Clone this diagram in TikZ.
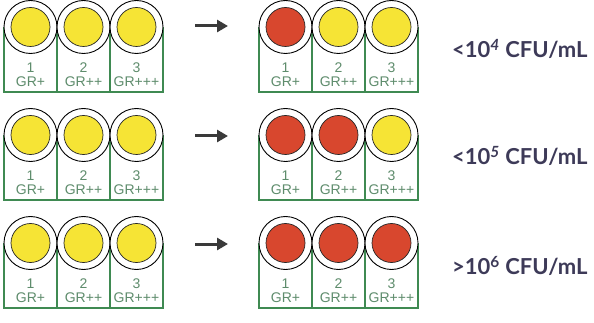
\documentclass[tikz,border=0pt]{standalone}
\usepackage{fontspec}
\setmainfont{Liberation Sans}
\newfontfamily\labelfont{Lato}
\usetikzlibrary{arrows.meta}
\definecolor{boxgreen}{HTML}{3F8A52}
\definecolor{txtgreen}{HTML}{5E8C6C}
\definecolor{ylw}{HTML}{F6E435}
\definecolor{rd}{HTML}{D8472E}
\definecolor{arrowgray}{HTML}{3A3A3A}
\definecolor{lbl}{HTML}{3D3A58}
\tikzset{
  outerring/.style={circle, draw=black, line width=0.9pt, fill=white, minimum size=53pt, inner sep=0pt},
  wellY/.style={circle, draw=black!85, line width=0.7pt, fill=ylw, minimum size=39pt, inner sep=0pt},
  wellR/.style={circle, draw=black!85, line width=0.7pt, fill=rd, minimum size=39pt, inner sep=0pt},
  cellline/.style={draw=boxgreen, line width=1.3pt},
  grtext/.style={text=txtgreen, font=\fontsize{14}{14}\selectfont, inner sep=0pt},
  goarrow/.style={draw=arrowgray, line width=3pt, -{Triangle[length=11pt,width=12pt]}},
  result/.style={text=lbl, font=\labelfont\bfseries\fontsize{22}{22}\selectfont, anchor=west, inner sep=0pt}
}
% #1 name, #2 left x, #3 circle centre y, #4 #5 #6 well styles
\newcommand\wellplate[6]{%
  \draw[cellline] (#2,#3) -- (#2,#3+65) -- (#2+159,#3+65) -- (#2+159,#3);
  \draw[cellline] (#2+53,#3) -- (#2+53,#3+65);
  \draw[cellline] (#2+106,#3) -- (#2+106,#3+65);
  \node[outerring] (#1-o1) at (#2+26.5,#3) {};
  \node[outerring] (#1-o2) at (#2+79.5,#3) {};
  \node[outerring] (#1-o3) at (#2+132.5,#3) {};
  \node[#4] (#1-w1) at (#1-o1.center) {};
  \node[#5] (#1-w2) at (#1-o2.center) {};
  \node[#6] (#1-w3) at (#1-o3.center) {};
  \node[grtext] (#1-n1) at (#2+26.5,#3+41) {1};
  \node[grtext] (#1-n2) at (#2+79.5,#3+41) {2};
  \node[grtext] (#1-n3) at (#2+132.5,#3+41) {3};
  \node[grtext] (#1-g1) at (#2+26.5,#3+55) {GR+};
  \node[grtext] (#1-g2) at (#2+79.5,#3+55) {GR++};
  \node[grtext] (#1-g3) at (#2+132.5,#3+55) {GR+++};
}
\begin{document}
\begin{tikzpicture}[x=1pt,y=-1pt]
\useasboundingbox[fill=white] (0,0) rectangle (594,323);
% row 1
\wellplate{l1}{4}{27}{wellY}{wellY}{wellY}
\wellplate{r1}{259}{27}{wellR}{wellY}{wellY}
\coordinate (a1s) at (195,26);
\coordinate (a1e) at (228,26);
\draw[goarrow] (a1s) -- (a1e);
\node[result] (t1) at (452,49) {<10\textsuperscript{\itshape 4} CFU/mL};
% row 2
\wellplate{l2}{4}{135}{wellY}{wellY}{wellY}
\wellplate{r2}{259}{135}{wellR}{wellR}{wellY}
\coordinate (a2s) at (195,136);
\coordinate (a2e) at (228,136);
\draw[goarrow] (a2s) -- (a2e);
\node[result] (t2) at (452,156) {<10\textsuperscript{\itshape 5} CFU/mL};
% row 3
\wellplate{l3}{4}{243}{wellY}{wellY}{wellY}
\wellplate{r3}{259}{243}{wellR}{wellR}{wellR}
\coordinate (a3s) at (195,244);
\coordinate (a3e) at (228,244);
\draw[goarrow] (a3s) -- (a3e);
\node[result] (t3) at (452,266) {>10\textsuperscript{6} CFU/mL};
\end{tikzpicture}
\end{document}
